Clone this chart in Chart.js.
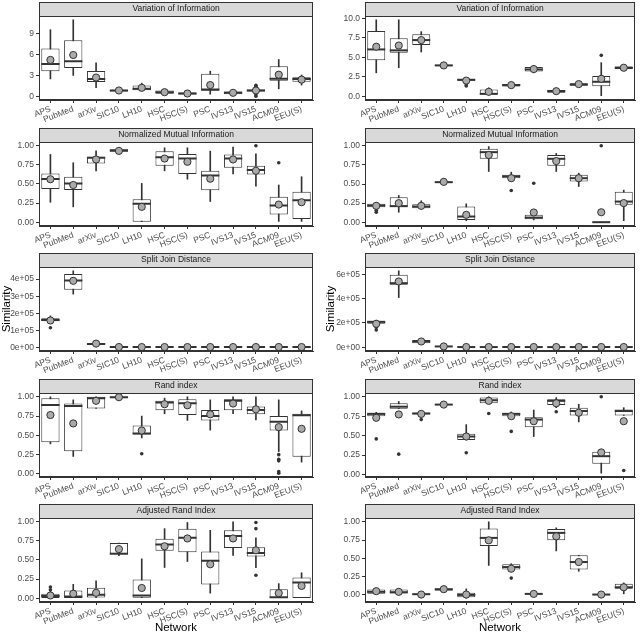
<!DOCTYPE html>
<html lang="en">
<head>
<meta charset="UTF-8">
<title>Similarity by network</title>
<script src="https://cdn.jsdelivr.net/npm/chart.js"></script>
<style>
  html, body { margin: 0; padding: 0; background: #fff; }
  #wrap { position: relative; width: 640px; height: 635px; }
  #wrap canvas { position: absolute; }
</style>
</head>
<body>
<div id="wrap"></div>
<script>
const networks = ['APS', 'PubMed', 'arXiv', 'SIC10', 'LH10', 'HSC', 'HSC(S)', 'PSC', 'IVS13', 'IVS15', 'ACM09', 'EEU(S)'];

// each row: [lower whisker, Q1, median, Q3, upper whisker, mean], in network order
// outliers: [network index, value]

// Variation of Information
const viLeft = [
  [2.5, 3.6, 4.64, 6.84, 9.5, 5.2], [3.0, 4.07, 5.0, 8.0, 10.9, 5.9], [1.25, 2.06, 2.5, 3.64, 4.8, 2.7],
  [0.6, 0.72, 0.85, 0.95, 1.1, 0.86], [0.86, 0.9, 1.1, 1.58, 1.9, 1.24], [0.3, 0.4, 0.62, 0.86, 0.95, 0.62],
  [0.2, 0.28, 0.43, 0.57, 0.65, 0.43], [0.33, 0.81, 1.0, 3.25, 3.6, 1.63], [0.25, 0.32, 0.53, 0.72, 0.8, 0.53],
  [0.4, 0.72, 0.86, 1.0, 1.3, 0.86], [1.1, 2.25, 2.54, 4.3, 5.26, 3.1], [1.63, 2.1, 2.5, 2.73, 3.06, 2.4]
];
const viLeftOut = [[9, 1.6], [9, 1.45], [9, 0.25], [9, 0.05]];
const viRight = [
  [3.0, 4.6, 6.0, 8.37, 9.8, 6.35], [3.65, 5.58, 5.88, 7.42, 9.8, 6.5], [5.67, 6.57, 7.2, 7.94, 8.28, 7.2],
  [3.75, 3.85, 3.95, 4.02, 4.1, 3.95], [1.75, 1.97, 2.1, 2.23, 2.3, 2.0], [0.15, 0.21, 0.3, 0.86, 1.07, 0.56],
  [1.15, 1.24, 1.42, 1.55, 1.65, 1.42], [3.0, 3.18, 3.43, 3.73, 3.95, 3.48], [0.35, 0.43, 0.64, 0.8, 0.95, 0.64],
  [1.2, 1.35, 1.5, 1.65, 1.75, 1.55], [0.0, 1.29, 1.85, 2.58, 4.3, 2.23], [3.4, 3.5, 3.65, 3.8, 3.9, 3.65]
];
const viRightOut = [[4, 1.45], [4, 1.3], [10, 5.24]];

// Normalized Mutual Information
const nmiLeft = [
  [0.26, 0.433, 0.563, 0.636, 0.883, 0.56], [0.2, 0.42, 0.506, 0.593, 0.775, 0.485], [0.67, 0.766, 0.84, 0.853, 0.93, 0.818],
  [0.91, 0.918, 0.935, 0.952, 0.96, 0.93], [0, 0, 0.24, 0.3, 0.506, 0.2], [0.67, 0.736, 0.848, 0.926, 0.97, 0.83],
  [0.56, 0.628, 0.83, 0.89, 0.97, 0.788], [0.27, 0.416, 0.61, 0.67, 0.926, 0.567], [0.628, 0.71, 0.83, 0.883, 0.98, 0.818],
  [0.47, 0.623, 0.68, 0.736, 0.89, 0.67], [0.01, 0.1, 0.216, 0.333, 0.485, 0.23], [0.01, 0.043, 0.286, 0.398, 0.593, 0.26]
];
const nmiLeftOut = [[9, 0.996], [10, 0.775]];
const nmiRight = [
  [0.175, 0.197, 0.218, 0.24, 0.26, 0.214], [0.13, 0.205, 0.21, 0.328, 0.35, 0.249], [0.17, 0.183, 0.205, 0.236, 0.28, 0.214],
  [0.51, 0.515, 0.524, 0.53, 0.535, 0.528], [0.02, 0.03, 0.074, 0.205, 0.24, 0.096], [0.664, 0.83, 0.917, 0.96, 0.99, 0.88],
  [0.568, 0.575, 0.6, 0.62, 0.655, 0.576], [0.03, 0.04, 0.06, 0.096, 0.1, 0.127], [0.664, 0.738, 0.83, 0.88, 0.9, 0.8],
  [0.467, 0.533, 0.576, 0.62, 0.642, 0.576], [0, 0, 0, 0, 0, 0.13], [0.02, 0.227, 0.27, 0.4, 0.42, 0.25]
];
const nmiRightOut = [[0, 0.157], [0, 0.13], [6, 0.415], [7, 0.51], [10, 1.0]];

// Split Join Distance
const sjdLeft = [
  [147000, 152000, 160000, 170000, 184000, 157000], [312000, 337000, 392000, 431000, 449000, 390000],
  [12000, 16000, 19000, 23000, 26000, 21000], [0, 300, 800, 1400, 2200, 900], [0, 200, 500, 900, 1500, 600],
  [0, 300, 700, 1200, 1800, 800], [0, 200, 600, 1000, 1600, 700], [0, 300, 800, 1300, 2000, 900],
  [0, 200, 500, 900, 1400, 600], [0, 300, 700, 1100, 1700, 800], [0, 400, 900, 1500, 2300, 1000],
  [0, 200, 600, 1100, 1800, 700]
];
const sjdLeftOut = [[0, 114000]];
const sjdRight = [
  [193000, 193000, 209000, 218000, 223000, 193000], [410000, 515000, 529000, 598000, 631000, 543000],
  [30000, 33000, 47000, 60000, 62000, 47000], [2000, 3500, 6000, 8500, 11000, 6000], [0, 500, 1200, 2000, 3000, 1300],
  [0, 400, 1000, 1800, 2600, 1100], [0, 600, 1400, 2200, 3200, 1500], [0, 500, 1100, 1900, 2800, 1200],
  [0, 400, 900, 1600, 2400, 1000], [0, 500, 1200, 2000, 3000, 1300], [0, 600, 1300, 2100, 3100, 1400],
  [0, 500, 1100, 1900, 2900, 1200]
];
const sjdRightOut = [[0, 165000], [0, 143000]];

// Rand index
const randLeft = [
  [0.39, 0.41, 0.895, 0.983, 1.0, 0.764], [0.227, 0.293, 0.882, 0.913, 0.96, 0.655], [0.85, 0.85, 0.983, 1.0, 1.0, 0.948],
  [0.985, 0.99, 0.995, 1.0, 1.0, 0.995], [0.467, 0.51, 0.524, 0.629, 0.75, 0.563], [0.78, 0.825, 0.926, 0.948, 0.983, 0.904],
  [0.694, 0.764, 0.917, 0.97, 1.0, 0.89], [0.568, 0.694, 0.75, 0.83, 0.96, 0.773], [0.78, 0.825, 0.948, 0.97, 1.0, 0.913],
  [0.7, 0.773, 0.83, 0.873, 1.0, 0.838], [0.29, 0.563, 0.677, 0.75, 0.96, 0.607], [0.153, 0.223, 0.76, 0.78, 0.817, 0.585]
];
const randLeftOut = [[4, 0.262], [10, 0.25], [10, 0.19], [10, 0.17], [10, 0.03], [10, 0.01]];
const randRight = [
  [0.75, 0.75, 0.78, 0.795, 0.8, 0.73], [0.847, 0.847, 0.873, 0.917, 0.94, 0.773], [0.76, 0.773, 0.786, 0.795, 0.803, 0.78],
  [0.89, 0.895, 0.9, 0.905, 0.91, 0.9], [0.445, 0.445, 0.489, 0.524, 0.642, 0.489], [0.917, 0.917, 0.956, 0.99, 1.0, 0.948],
  [0.75, 0.75, 0.78, 0.795, 0.805, 0.75], [0.489, 0.607, 0.707, 0.738, 0.83, 0.686], [0.86, 0.895, 0.948, 0.97, 0.99, 0.917],
  [0.677, 0.76, 0.817, 0.86, 0.904, 0.795], [0.017, 0.14, 0.236, 0.293, 0.3, 0.284], [0.76, 0.76, 0.817, 0.838, 0.86, 0.686]
];
const randRightOut = [[0, 0.458], [1, 0.262], [2, 0.707], [4, 0.28], [5, 0.786], [6, 0.555], [8, 0.808], [10, 1.0], [11, 0.052]];

// Adjusted Rand Index
const ariLeft = [
  [0, 0.004, 0.027, 0.058, 0.1, 0.035], [0, 0.004, 0.022, 0.1, 0.18, 0.058], [0, 0.009, 0.044, 0.137, 0.226, 0.07],
  [0.553, 0.58, 0.58, 0.72, 0.72, 0.64], [0, 0, 0.035, 0.243, 0.513, 0.133], [0.4, 0.62, 0.7, 0.774, 0.907, 0.677],
  [0.478, 0.6, 0.788, 0.907, 0.987, 0.779], [0.066, 0.18, 0.487, 0.61, 0.885, 0.442], [0.557, 0.655, 0.81, 0.885, 0.996, 0.779],
  [0.398, 0.544, 0.588, 0.664, 0.788, 0.624], [0, 0.004, 0.013, 0.115, 0.19, 0.066], [0, 0.004, 0.204, 0.27, 0.332, 0.16]
];
const ariLeftOut = [[0, 0.146], [0, 0.11], [9, 0.987], [9, 0.907], [9, 0.3]];
const ariRight = [
  [0.01, 0.01, 0.037, 0.07, 0.088, 0.046], [0.01, 0.014, 0.032, 0.07, 0.078, 0.037], [-0.005, -0.002, 0.005, 0.01, 0.012, 0.0],
  [0.05, 0.055, 0.07, 0.088, 0.095, 0.074], [-0.05, -0.037, -0.005, 0.023, 0.078, 0.0], [0.4, 0.668, 0.779, 0.908, 1.0, 0.746],
  [0.346, 0.346, 0.378, 0.415, 0.424, 0.355], [0.0, 0.003, 0.009, 0.012, 0.015, 0.009], [0.6, 0.746, 0.848, 0.9, 0.917, 0.8],
  [0.32, 0.346, 0.447, 0.54, 0.54, 0.447], [-0.004, -0.002, 0, 0.003, 0.005, 0.0], [0.01, 0.078, 0.1, 0.147, 0.16, 0.1]
];
const ariRightOut = [[6, 0.226]];

// tick labels
const viLeftTicks = ['0', '3', '6', '9'];
const viRightTicks = ['0.0', '2.5', '5.0', '7.5', '10.0'];
const unitTicks = ['0.00', '0.25', '0.50', '0.75', '1.00'];
const sjdLeftTicks = ['0e+00', '1e+05', '2e+05', '3e+05', '4e+05'];
const sjdRightTicks = ['0e+00', '2e+05', '4e+05', '6e+05'];

const panels = [
  { title: 'Variation of Information', row: 0, col: 0, box: viLeft, out: viLeftOut, ticks: viLeftTicks },
  { title: 'Variation of Information', row: 0, col: 1, box: viRight, out: viRightOut, ticks: viRightTicks },
  { title: 'Normalized Mutual Information', row: 1, col: 0, box: nmiLeft, out: nmiLeftOut, ticks: unitTicks },
  { title: 'Normalized Mutual Information', row: 1, col: 1, box: nmiRight, out: nmiRightOut, ticks: unitTicks },
  { title: 'Split Join Distance', row: 2, col: 0, box: sjdLeft, out: sjdLeftOut, ticks: sjdLeftTicks },
  { title: 'Split Join Distance', row: 2, col: 1, box: sjdRight, out: sjdRightOut, ticks: sjdRightTicks },
  { title: 'Rand index', row: 3, col: 0, box: randLeft, out: randLeftOut, ticks: unitTicks },
  { title: 'Rand index', row: 3, col: 1, box: randRight, out: randRightOut, ticks: unitTicks },
  { title: 'Adjusted Rand Index', row: 4, col: 0, box: ariLeft, out: ariLeftOut, ticks: unitTicks },
  { title: 'Adjusted Rand Index', row: 4, col: 1, box: ariRight, out: ariRightOut, ticks: unitTicks }
];

Chart.defaults.font.family = "'Liberation Sans', Arial, sans-serif";
const dark = '#333333';
const tickGrey = '#4d4d4d';

// strip header + panel frame, ggplot style
const panelDeco = {
  id: 'panelDeco',
  afterDraw(chart, args, opts) {
    const { ctx, chartArea: a } = chart;
    const w = a.right - a.left;
    ctx.save();
    ctx.fillStyle = '#d9d9d9';
    ctx.fillRect(a.left, a.top - 14, w, 14);
    ctx.strokeStyle = dark;
    ctx.lineWidth = 1;
    ctx.strokeRect(a.left + 0.5, a.top - 13.5, w - 1, 14);
    ctx.strokeRect(a.left + 0.5, a.top + 0.5, w - 1, a.bottom - a.top - 1);
    ctx.fillStyle = '#1a1a1a';
    ctx.font = "8.5px 'Liberation Sans', Arial, sans-serif";
    ctx.textAlign = 'center';
    ctx.textBaseline = 'middle';
    ctx.fillText(opts.title, (a.left + a.right) / 2, a.top - 7);
    ctx.restore();
  }
};

const wrap = document.getElementById('wrap');

function makePanel(p) {
  const left = p.col === 0;
  const last = p.row === 4;
  const c = document.createElement('canvas');
  c.width = 320;
  c.height = last ? 133 : 125;
  c.style.left = (left ? 0 : 320) + 'px';
  c.style.top = Math.round(p.row * 125.5) + 'px';
  wrap.appendChild(c);

  const vals = p.box.flatMap(r => [r[0], r[4], r[5]]).concat(p.out.map(o => o[1]));
  const lo = Math.min(...vals), hi = Math.max(...vals);
  const pad = (hi - lo) * 0.05;
  const tickVals = p.ticks.map(Number);

  const gridOpts = { display: true, drawOnChartArea: false, drawTicks: true, tickLength: 3, color: dark, offset: false };

  new Chart(c, {
    type: 'bar',
    data: {
      labels: networks,
      datasets: [
        { // mean
          type: 'line', showLine: false, order: 1,
          data: p.box.map((r, i) => ({ x: networks[i], y: r[5] })),
          pointRadius: 3.6, pointBackgroundColor: '#aaaaaa', pointBorderColor: dark, pointBorderWidth: 1
        },
        { // median
          type: 'line', showLine: false, order: 2,
          data: p.box.map((r, i) => ({ x: networks[i], y: r[2] })),
          pointStyle: 'line',
          pointRadius: ctx => ctx.chart.scales.x.width / networks.length * 0.8 / 2,
          pointBorderColor: dark, pointBorderWidth: 2
        },
        { // outliers
          type: 'line', showLine: false, order: 3,
          data: p.out.map(o => ({ x: networks[o[0]], y: o[1] })),
          pointRadius: 1.8, pointBackgroundColor: dark, pointBorderColor: dark, pointBorderWidth: 0
        },
        { // box Q1..Q3
          order: 4, grouped: false,
          data: p.box.map(r => [r[1], r[3]]),
          backgroundColor: '#ffffff', borderColor: dark, borderWidth: 1, borderSkipped: false,
          barPercentage: 0.8, categoryPercentage: 1
        },
        { // whiskers
          order: 5, grouped: false,
          data: p.box.map(r => [r[0], r[4]]),
          backgroundColor: dark, barThickness: 1
        }
      ]
    },
    options: {
      responsive: false,
      animation: false,
      events: [],
      layout: { padding: { top: 16, left: 0, bottom: 0, right: left ? 7 : 5 } },
      plugins: {
        legend: { display: false },
        tooltip: { enabled: false },
        panelDeco: { title: p.title }
      },
      scales: {
        x: {
          grid: gridOpts,
          border: { display: true, color: dark },
          ticks: { color: tickGrey, font: { size: 8.5 }, minRotation: 21, maxRotation: 21, autoSkip: false, padding: 1 },
          title: { display: last, text: 'Network', color: '#000', font: { size: 11.5 }, padding: 0 },
          afterFit: s => { s.height = last ? 33 : 25; }
        },
        y: {
          min: lo - pad,
          max: hi + pad,
          afterBuildTicks: s => { s.ticks = tickVals.map(v => ({ value: v })); },
          grid: gridOpts,
          border: { display: true, color: dark },
          ticks: { color: tickGrey, font: { size: 8.5 }, padding: 2, callback: (v, i) => p.ticks[i] },
          title: { display: p.row === 2, text: 'Similarity', color: '#000', font: { size: 11.5 }, padding: { top: left ? 0 : 3.5 } },
          afterFit: s => { s.width = left ? 39 : 45; }
        }
      }
    },
    plugins: [panelDeco]
  });
}

panels.forEach(makePanel);
</script>
</body>
</html>
